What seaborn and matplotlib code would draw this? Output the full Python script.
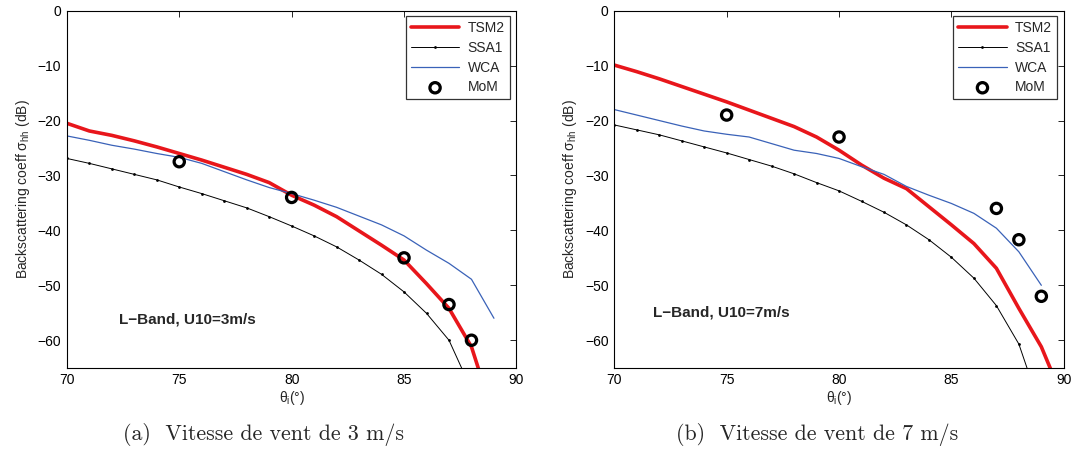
import numpy as np
import pandas as pd
import matplotlib
matplotlib.use("Agg")
import matplotlib.pyplot as plt
import seaborn as sns

# Angles d'incidence (degres)
theta = list(range(70, 91))

# --- Vent 3 m/s ---
tsm2_3 = [-20.5, -21.9, -22.7, -23.7, -24.8, -26.0, -27.2, -28.5, -29.8, -31.3,
          -33.6, -35.4, -37.5, -40.1, -42.7, -45.4, -49.7, -54.2, -61.2, -74.0]
ssa1_3 = [-26.9, -27.8, -28.8, -29.8, -30.8, -32.1, -33.3, -34.6, -35.9, -37.5,
          -39.2, -41.0, -43.0, -45.4, -48.0, -51.2, -55.1, -60.0, -69.0]
wca_3 = [-22.8, -23.6, -24.5, -25.2, -26.0, -26.7, -27.8, -29.3, -30.8, -32.2,
         -33.3, -34.5, -35.8, -37.4, -39.0, -41.0, -43.6, -46.0, -48.9, -56.0]
mom_theta_3 = [75, 80, 85, 87, 88]
mom_3 = [-27.5, -34.0, -45.0, -53.5, -60.0]

# --- Vent 7 m/s ---
tsm2_7 = [-9.9, -11.1, -12.4, -13.8, -15.2, -16.6, -18.1, -19.6, -21.1, -23.0,
          -25.4, -28.1, -30.5, -32.4, -35.7, -39.0, -42.4, -46.9, -54.2, -61.2, -71.0]
ssa1_7 = [-20.8, -21.7, -22.6, -23.7, -24.8, -25.9, -27.1, -28.3, -29.7, -31.3,
          -32.8, -34.7, -36.7, -39.0, -41.7, -44.9, -48.7, -53.7, -60.7, -72.7]
wca_7 = [-18.0, -19.0, -20.0, -21.0, -21.9, -22.5, -23.0, -24.2, -25.4, -26.0,
         -26.9, -28.4, -29.8, -32.0, -33.6, -35.1, -36.9, -39.6, -43.9, -50.0]
mom_theta_7 = [75, 80, 87, 88, 89]
mom_7 = [-19.0, -23.0, -36.0, -41.7, -52.0]

sns.set_style("white")
plt.rcParams["font.family"] = ["Liberation Sans", "DejaVu Sans"]
plt.rcParams["mathtext.fontset"] = "custom"
plt.rcParams["mathtext.rm"] = "Liberation Sans"
plt.rcParams["mathtext.it"] = "Liberation Sans"

fig = plt.figure(figsize=(10.75, 4.51), dpi=100)
ax1 = fig.add_axes([0.0622, 0.1847, 0.4182, 0.7916])
ax2 = fig.add_axes([0.5714, 0.1847, 0.4182, 0.7916])

panels = [
    (ax1, tsm2_3, ssa1_3, wca_3, mom_theta_3, mom_3, "L\u2212Band, U10=3m/s", (72.3, -56.3),
     "(a)  Vitesse de vent de 3 m/s", 0.245),
    (ax2, tsm2_7, ssa1_7, wca_7, mom_theta_7, mom_7, "L\u2212Band, U10=7m/s", (71.73, -55.0),
     "(b)  Vitesse de vent de 7 m/s", 0.760),
]

for ax, tsm2, ssa1, wca, mt, mom, label, pos, caption, cx in panels:
    sns.lineplot(x=theta[:len(tsm2)], y=tsm2, ax=ax, color="#e8161b", lw=2.6,
                 label="TSM2")
    sns.lineplot(x=theta[:len(ssa1)], y=ssa1, ax=ax, color="black", lw=0.7,
                 marker="o", markersize=2, markeredgewidth=0, label="SSA1")
    sns.lineplot(x=theta[:len(wca)], y=wca, ax=ax, color="#3a62b8", lw=0.9,
                 label="WCA")
    sns.scatterplot(x=mt, y=mom, ax=ax, s=55, marker="o", facecolor="none",
                    edgecolor="black", linewidth=2.3, label="MoM", zorder=5)

    ax.set_xlim(70, 90)
    ax.set_ylim(-65, 0)
    ax.set_xticks([70, 75, 80, 85, 90])
    ax.set_yticks([0, -10, -20, -30, -40, -50, -60])
    ax.set_yticklabels(["0", "\u221210", "\u221220", "\u221230", "\u221240", "\u221250", "\u221260"])
    ax.tick_params(direction="in", top=True, right=True, length=4, width=0.6,
                   labelsize=10, colors="black", pad=4)
    for s in ax.spines.values():
        s.set_linewidth(0.8)
        s.set_color("black")
    ax.set_xlabel(r"$\theta_{\mathrm{i}}$(°)", fontsize=10, labelpad=1)
    ax.set_ylabel(r"Backscattering coeff $\sigma_{\mathrm{hh}}$ (dB)", fontsize=10, labelpad=4)
    ax.text(pos[0], pos[1], label, fontsize=11, fontweight="bold", va="center")

    leg = ax.legend(loc="upper right", bbox_to_anchor=(0.985, 0.985), borderaxespad=0,
                    fontsize=10, frameon=True, fancybox=False,
                    edgecolor="black", borderpad=0.35, labelspacing=0.42,
                    handlelength=3.5, handletextpad=0.6)
    leg.get_frame().set_linewidth(0.9)

    fig.text(cx, 0.036, caption, ha="center", va="center",
             fontsize=15.8, family=["cmr10", "DejaVu Serif"])

fig.savefig("out.png", dpi=100)
